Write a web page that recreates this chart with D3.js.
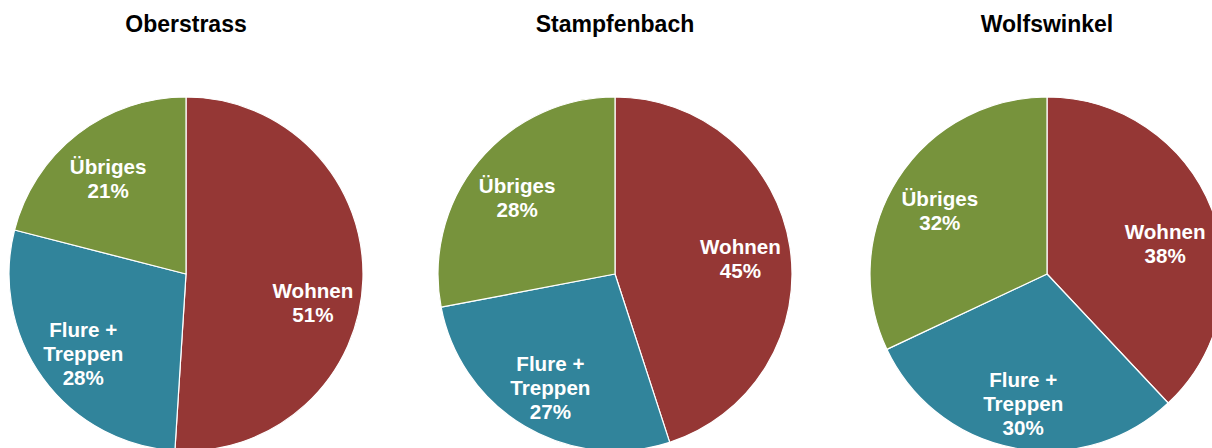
<!DOCTYPE html>
<html>
<head>
<meta charset="utf-8">
<script src="https://cdn.jsdelivr.net/npm/d3@7"></script>
<style>
  html, body { margin: 0; padding: 0; background: #fff; }
  svg { display: block; font-family: "Liberation Sans", Arial, sans-serif; }
</style>
</head>
<body>
<svg id="chart" width="1212" height="448"></svg>
<script>
// Floor-area shares per building (percent)
const regions = ["Oberstrass", "Stampfenbach", "Wolfswinkel"];
const categories = ["Wohnen", "Flure + Treppen", "Übriges"];
const wohnen = [51, 45, 38];
const flureTreppen = [28, 27, 30];
const uebriges = [21, 28, 32];

const colors = ["#953735", "#31849b", "#77933c"];

// Layout
const radius = 177;
const centerY = 274;
const centersX = d3.scaleOrdinal().domain(regions).range([186, 615, 1047]);
const labelRadius = 127;
const lineGap = 24;
// extra vertical shift for the "Wohnen" label of each pie (best-fit placement)
const wohnenLabelShift = [20, 0, 12];

const svg = d3.select("#chart");

const pie = d3.pie().sort(null).value(d => d.value);
const arc = d3.arc().innerRadius(0).outerRadius(radius);
const labelArc = d3.arc().innerRadius(labelRadius).outerRadius(labelRadius);

regions.forEach((region, i) => {
  const values = [wohnen[i], flureTreppen[i], uebriges[i]];
  const data = categories.map((c, k) => ({ cat: c, value: values[k], k }));
  const cx = centersX(region);

  svg.append("text")
    .attr("x", cx)
    .attr("y", 32)
    .attr("text-anchor", "middle")
    .attr("font-size", 23)
    .attr("font-weight", "bold")
    .attr("fill", "#000")
    .text(region);

  const g = svg.append("g").attr("transform", `translate(${cx},${centerY})`);
  const arcs = pie(data);

  g.selectAll("path")
    .data(arcs)
    .join("path")
    .attr("d", arc)
    .attr("fill", d => colors[d.data.k])
    .attr("stroke", "#ffffff")
    .attr("stroke-width", 1.2)
    .attr("stroke-linejoin", "round");

  arcs.forEach(a => {
    const [lx, ly0] = labelArc.centroid(a);
    const ly = ly0 + (a.data.k === 0 ? wohnenLabelShift[i] : 0);
    const lines = a.data.cat === "Flure + Treppen"
      ? ["Flure +", "Treppen", a.data.value + "%"]
      : [a.data.cat, a.data.value + "%"];
    const first = ly - (lines.length - 1) * lineGap / 2 + 12;
    const t = g.append("text")
      .attr("text-anchor", "middle")
      .attr("font-size", 20.6)
      .attr("font-weight", "bold")
      .attr("fill", "#ffffff");
    lines.forEach((ln, j) => {
      t.append("tspan")
        .attr("x", lx)
        .attr("y", first + j * lineGap)
        .text(ln);
    });
  });
});
</script>
</body>
</html>
